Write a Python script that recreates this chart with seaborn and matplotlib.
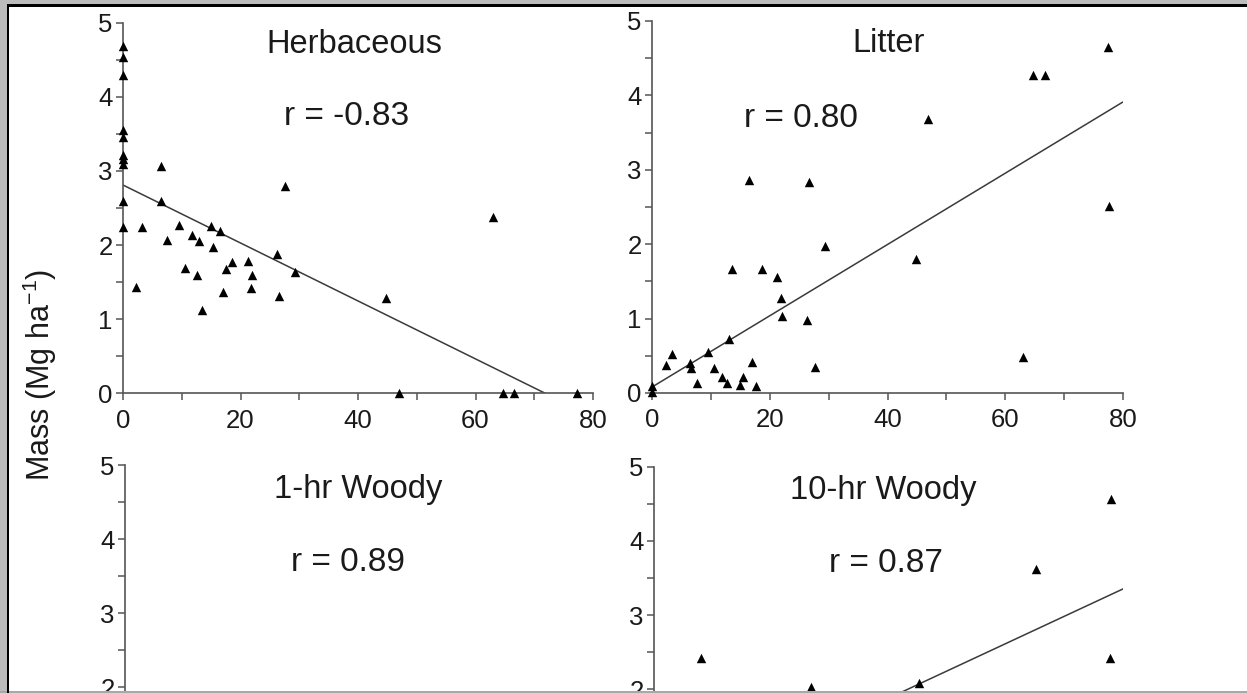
import numpy as np
import pandas as pd
import matplotlib
matplotlib.use("Agg")
import matplotlib.pyplot as plt
from matplotlib.ticker import MultipleLocator
from matplotlib.patches import Rectangle
import seaborn as sns

# ---------------- data ----------------
herb_x = [0, 0, 0, 0, 0, 0, 0, 0, 0, 0,
          2.2, 3.2, 6.4, 6.5, 7.5, 9.5, 10.5, 11.8, 12.6, 12.9,
          13.5, 15.0, 15.4, 16.5, 17.0, 17.6, 18.6, 21.3, 21.8, 22.0,
          26.2, 26.6, 27.6, 29.3, 44.7, 46.9, 62.9, 64.6, 66.6, 77.3]
herb_y = [4.68, 4.54, 4.29, 3.55, 3.46, 3.21, 3.16, 3.10, 2.59, 2.25,
          1.43, 2.25, 3.07, 2.59, 2.07, 2.27, 1.69, 2.13, 1.60, 2.06,
          1.13, 2.26, 1.97, 2.19, 1.37, 1.68, 1.77, 1.79, 1.42, 1.60,
          1.88, 1.31, 2.80, 1.63, 1.28, 0.0, 2.38, 0.0, 0.0, 0.0]

litter_x = [0, 0, 2.3, 3.4, 6.5, 6.6, 7.6, 9.5, 10.6, 11.9,
            12.7, 13.0, 13.6, 15.0, 15.5, 16.5, 17.0, 17.7, 18.7, 21.3,
            21.9, 22.1, 26.3, 26.7, 27.7, 29.3, 44.8, 46.9, 63.0, 64.7,
            66.7, 77.4, 77.6]
litter_y = [0.09, 0.01, 0.37, 0.53, 0.40, 0.33, 0.13, 0.55, 0.34, 0.21,
            0.13, 0.73, 1.66, 0.11, 0.22, 2.86, 0.41, 0.10, 1.66, 1.56,
            1.28, 1.03, 0.98, 2.83, 0.35, 1.97, 1.80, 3.68, 0.48, 4.27,
            4.27, 4.65, 2.51]

woody1_x = []
woody1_y = []

woody10_x = [8.0, 26.7, 45.2, 65.2, 78.0, 77.8]
woody10_y = [2.42, 2.04, 2.09, 3.62, 4.56, 2.43]

# regression lines: (intercept, slope)
herb_fit = [2.81, -0.0391]
litter_fit = [0.08, 0.0479]
woody10_fit = [0.41, 0.0368]

panel_titles = ["Herbaceous", "Litter", "1-hr Woody", "10-hr Woody"]
panel_r = ["r = -0.83", "r = 0.80", "r = 0.89", "r = 0.87"]
x_ticks = [0, 20, 40, 60, 80]
y_ticks = [0, 1, 2, 3, 4, 5]
y_label = "Mass (Mg ha$^{-1}$)"

# ---------------- style ----------------
sns.set_theme(style="white")
plt.rcParams["font.family"] = ["Liberation Sans", "DejaVu Sans"]
plt.rcParams["mathtext.fontset"] = "custom"
plt.rcParams["mathtext.rm"] = "Liberation Sans"
plt.rcParams["mathtext.it"] = "Liberation Sans"

W, H = 1247, 693
fig = plt.figure(figsize=(W / 100, H / 100), dpi=100)
fig.patch.set_facecolor("white")

def ax_at(left, right, top, bottom):
    return fig.add_axes([left / W, 1 - bottom / H, (right - left) / W, (bottom - top) / H])

axes = [
    ax_at(123, 593, 22.7, 393.3),
    ax_at(652, 1123, 21.0, 393.0),
    ax_at(125, 595, 465.3, 835.3),
    ax_at(654, 1123, 466.7, 838.0),
]

datasets = [(herb_x, herb_y, herb_fit),
            (litter_x, litter_y, litter_fit),
            (woody1_x, woody1_y, None),
            (woody10_x, woody10_y, woody10_fit)]

title_pos = [(39.3, 4.70), (40.1, 4.70), (39.7, 4.67), (39.1, 4.68)]
r_pos = [(38.1, 3.73), (25.3, 3.69), (38.0, 3.68), (39.6, 3.70)]

spine_col = "#555555"
txt_col = "#1a1a1a"

for i, (ax, (xs, ys, fit), title, rtxt, tp, rp) in enumerate(
        zip(axes, datasets, panel_titles, panel_r, title_pos, r_pos)):
    ax.set_facecolor("white")
    if fit is not None:
        fx = np.array([0.0, 80.0])
        fy = fit[0] + fit[1] * fx
        sns.lineplot(x=fx, y=fy, ax=ax, color="#3a3a3a", linewidth=1.1)
    if len(xs):
        df = pd.DataFrame({"x": xs, "y": ys})
        sns.scatterplot(data=df, x="x", y="y", ax=ax, marker="^", color="black",
                        s=46, linewidth=0, clip_on=False, zorder=5)
    ax.set_xlim(0, 80)
    ax.set_ylim(0, 5)
    ax.set_xticks(x_ticks)
    ax.set_yticks(y_ticks)
    ax.xaxis.set_minor_locator(MultipleLocator(10))
    ax.yaxis.set_minor_locator(MultipleLocator(0.5))
    ax.tick_params(axis="both", which="both", direction="out", length=5,
                   width=1.1, color=spine_col, labelsize=18.5, labelcolor=txt_col,
                   bottom=True, left=True)
    ax.tick_params(axis="x", which="major", pad=6)
    ax.tick_params(axis="y", which="major", pad=2.5)
    if i >= 2:
        # bottom row's x-axis lies below the visible area
        ax.tick_params(axis="x", labelbottom=False)
    ax.set_xlabel("")
    ax.set_ylabel("")
    sns.despine(ax=ax)
    for s in ("left", "bottom"):
        ax.spines[s].set_color(spine_col)
        ax.spines[s].set_linewidth(1.2)
    ax.text(tp[0], tp[1], title, ha="center", va="center", fontsize=23.5, color=txt_col)
    ax.text(rp[0], rp[1], rtxt, ha="center", va="center", fontsize=24, color=txt_col)

fig.text(40 / W, 1 - 375 / H, y_label, rotation=90, ha="center", va="center",
         fontsize=22, color=txt_col)

# screenshot frame
gray = "#bcbcbc"
fig.add_artist(Rectangle((0, 0), 7 / W, 1, transform=fig.transFigure,
                         facecolor=gray, edgecolor="none", zorder=20))
fig.add_artist(Rectangle((7 / W, 0), 2.2 / W, 1 - 4 / H, transform=fig.transFigure,
                         facecolor="black", edgecolor="none", zorder=21))
fig.add_artist(Rectangle((0, 1 - 4 / H), 1, 4 / H, transform=fig.transFigure,
                         facecolor=gray, edgecolor="none", zorder=20))
fig.add_artist(Rectangle((7 / W, 1 - 6.5 / H), 1, 2.5 / H, transform=fig.transFigure,
                         facecolor="black", edgecolor="none", zorder=21))
fig.add_artist(Rectangle((0, 0), 1, 2.5 / H, transform=fig.transFigure,
                         facecolor="#a8a8a8", edgecolor="none", zorder=20))

fig.savefig("out.png", dpi=100)
